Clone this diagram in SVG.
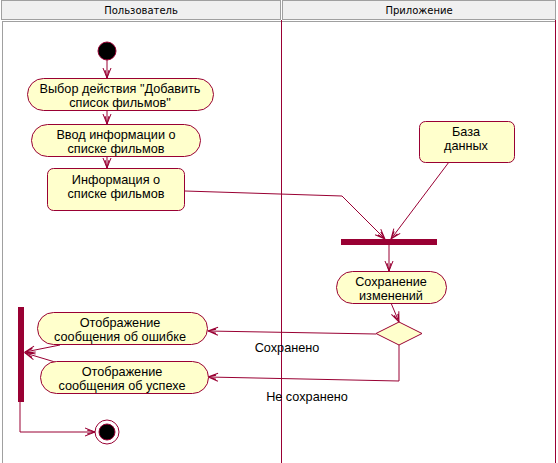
<svg xmlns="http://www.w3.org/2000/svg" width="558" height="463" viewBox="0 0 558 463">
<style>
.hdr{fill:#f0f0f0;stroke:#a0a0a0;stroke-width:1}
.ht{font-family:"DejaVu Sans","Liberation Sans",sans-serif;font-size:10px;fill:#000;text-anchor:middle}
.act{fill:#ffffcc;stroke:#990033;stroke-width:1}
.t{font-family:"Liberation Sans",Arial,sans-serif;font-size:12.7px;fill:#000;text-anchor:middle}
.c{fill:none;stroke:#990033;stroke-width:1}
.bar{fill:#990033}
</style>
<defs>
<marker id="arr" markerWidth="12" markerHeight="10" refX="11" refY="5" orient="auto" markerUnits="userSpaceOnUse">
<path d="M1,1 L11,5 L1,9 M3,3 L11,5 L3,7" fill="none" stroke="#990033" stroke-width="1"/>
</marker>
</defs>
<rect x="0" y="0" width="558" height="463" fill="#ffffff"/>
<g id="header">
<rect class="hdr" x="1.5" y="0.5" width="279" height="19"/>
<rect class="hdr" x="282.5" y="0.5" width="273" height="19"/>
<text class="ht" x="141" y="14">Пользователь</text>
<text class="ht" x="419" y="14">Приложение</text>
</g>
<g id="lanes">
<line x1="2.5" y1="21" x2="2.5" y2="463" stroke="#a0a0a0"/>
<line x1="2" y1="21.5" x2="556" y2="21.5" stroke="#a0a0a0"/>
<line x1="281.5" y1="20" x2="281.5" y2="463" stroke="#990033"/>
<line x1="555.5" y1="20" x2="555.5" y2="463" stroke="#990033"/>
</g>
<g id="connectors">
<line class="c" x1="107" y1="60" x2="107" y2="78" marker-end="url(#arr)"/>
<line class="c" x1="107" y1="111" x2="107" y2="124" marker-end="url(#arr)"/>
<line class="c" x1="107" y1="156" x2="107" y2="168" marker-end="url(#arr)"/>
<polyline class="c" points="185,191 342,196 385,239" marker-end="url(#arr)"/>
<line class="c" x1="449" y1="162" x2="391" y2="239" marker-end="url(#arr)"/>
<line class="c" x1="389" y1="245" x2="389" y2="271" marker-end="url(#arr)"/>
<line class="c" x1="391" y1="303" x2="399" y2="322" marker-end="url(#arr)"/>
<polyline class="c" points="376,334 208,331" marker-end="url(#arr)"/>
<polyline class="c" points="399,345 399,381 208,377" marker-end="url(#arr)"/>
<line class="c" x1="60" y1="345" x2="25" y2="352" marker-end="url(#arr)"/>
<line class="c" x1="55" y1="362" x2="25" y2="353" marker-end="url(#arr)"/>
<polyline class="c" points="20,402 20,432 95,432" marker-end="url(#arr)"/>
<text class="t" x="287" y="352">Сохранено</text>
<text class="t" x="307" y="401">Не сохранено</text>
</g>
<g id="start">
<circle cx="107" cy="51" r="9" fill="#000" stroke="#990033"/>
</g>
<g id="a1">
<rect class="act" x="27.5" y="78.5" width="186" height="32" rx="16" ry="16"/>
<text class="t" x="120" y="93">Выбор действия "Добавить</text>
<text class="t" x="120" y="107">список фильмов"</text>
</g>
<g id="a2">
<rect class="act" x="31.5" y="124.5" width="169" height="32" rx="16" ry="16"/>
<text class="t" x="116" y="139">Ввод информации о</text>
<text class="t" x="116" y="153">списке фильмов</text>
</g>
<g id="obj">
<rect class="act" x="47.5" y="168.5" width="137" height="42" rx="6" ry="6"/>
<text class="t" x="116" y="184">Информация о</text>
<text class="t" x="116" y="198">списке фильмов</text>
</g>
<g id="db">
<rect class="act" x="419.5" y="121.5" width="95" height="41" rx="6" ry="6"/>
<text class="t" x="466" y="136">База</text>
<text class="t" x="466" y="150">данных</text>
</g>
<g id="sync1">
<rect class="bar" x="341" y="239" width="96" height="6"/>
</g>
<g id="save">
<rect class="act" x="336.5" y="271.5" width="110" height="32" rx="16" ry="16"/>
<text class="t" x="391" y="286">Сохранение</text>
<text class="t" x="391" y="300">изменений</text>
</g>
<g id="decision">
<polygon class="act" points="399,322 422,333.5 399,345 376,333.5"/>
</g>
<g id="err">
<rect class="act" x="37.5" y="312.5" width="170" height="32" rx="16" ry="16"/>
<text class="t" x="120" y="327">Отображение</text>
<text class="t" x="120" y="341">сообщения об ошибке</text>
</g>
<g id="ok">
<rect class="act" x="40.5" y="361.5" width="168" height="32" rx="16" ry="16"/>
<text class="t" x="122" y="376">Отображение</text>
<text class="t" x="122" y="390">сообщения об успехе</text>
</g>
<g id="sync2">
<rect class="bar" x="18" y="307" width="6" height="95"/>
</g>
<g id="end">
<circle cx="107" cy="432" r="12" fill="#fff" stroke="#990033"/>
<circle cx="107" cy="432" r="8" fill="#000" stroke="#990033"/>
</g>
</svg>
